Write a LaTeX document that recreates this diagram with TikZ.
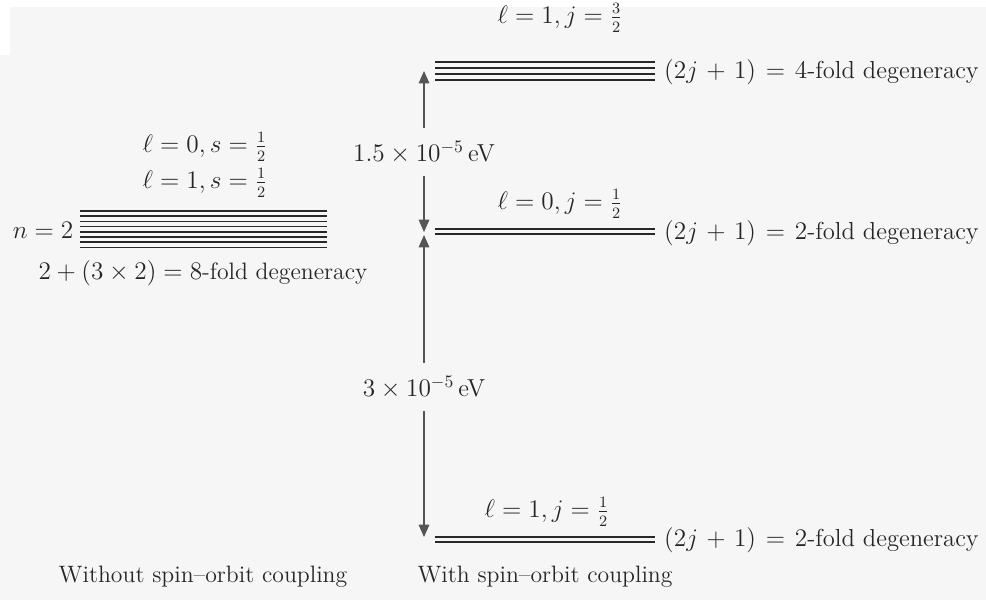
\documentclass[tikz,border=0pt]{standalone}
\usepackage{tikz}
\usetikzlibrary{arrows.meta, positioning}
\usepackage{xcolor}
\definecolor{pageGray}{RGB}{246, 246, 246}
\definecolor{levelInk}{RGB}{40, 40, 40}
\definecolor{arrowInk}{RGB}{85, 85, 85}
\newcommand{\looseMath}{\thickmuskip=7mu plus 3mu\relax\medmuskip=6mu plus 2mu\relax}

\begin{document}
\begin{tikzpicture}[
        x=0.02cm, y=-0.02cm,
        lvl/.style={line width=0.9pt, levelInk},
        txt/.style={font=\fontsize{13.5}{16}\selectfont, text=black!85, inner sep=0.5pt},
        degTxt/.style={txt, anchor=west, font=\fontsize{14}{16}\selectfont\looseMath},
        gapTxt/.style={txt, inner sep=7pt, font=\fontsize{14}{16}\selectfont},
        splitArrow/.style={-{Triangle[length=7pt, width=6pt]}, line width=0.7pt, arrowInk}
    ]
        % page background of the scan
        \useasboundingbox (0,0) rectangle (986,600);
        \fill[pageGray] (0,0) rectangle (986,600);
        \fill[white] (0,0) rectangle (986,7);
        \fill[white] (0,0) rectangle (10,55);

        % without spin-orbit coupling: n = 2 level
        \foreach \k in {0,...,7}
            \draw[lvl] (80,211+5.2*\k) -- (327,211+5.2*\k);
        \node[txt] (lZeroS) at (205,147) {$\ell = 0, s = \frac{1}{2}$};
        \node[txt] (lOneS) at (205,183) {$\ell = 1, s = \frac{1}{2}$};
        \node[txt] (nTwo) at (43,230) {$n = 2$};
        \node[txt] (deg8) at (203,273) {$2 + (3 \times 2) = 8$-fold degeneracy};
        \node[txt] (without) at (203,577) {Without spin--orbit coupling};

        % with spin-orbit coupling: j = 3/2, j = 1/2 and j = 1/2 levels
        \foreach \y in {62,68,74,80}
            \draw[lvl] (435,\y) -- (655,\y);
        \foreach \y in {229,234}
            \draw[lvl] (435,\y) -- (655,\y);
        \foreach \y in {537,542}
            \draw[lvl] (435,\y) -- (655,\y);

        \node[txt] (jThree) at (560,18) {$\ell = 1, j = \frac{3}{2}$};
        \node[degTxt] (deg4) at (663,72) {$(2j + 1) = 4$-fold degeneracy};
        \node[txt] (jHalfA) at (560,204) {$\ell = 0, j = \frac{1}{2}$};
        \node[degTxt] (deg2A) at (663,233) {$(2j + 1) = 2$-fold degeneracy};
        \node[txt] (jHalfB) at (547,512) {$\ell = 1, j = \frac{1}{2}$};
        \node[degTxt] (deg2B) at (663,540) {$(2j + 1) = 2$-fold degeneracy};
        \node[txt] (with) at (545,577) {With spin--orbit coupling};

        % energy splittings
        \coordinate (tipTop) at (424,71);
        \coordinate (tipMidDown) at (424,232);
        \coordinate (tipMidUp) at (424,235);
        \coordinate (tipBottom) at (424,537);
        \node[gapTxt] (eSmall) at (424,152) {$1.5 \times 10^{-5}\,$eV};
        \node[gapTxt] (eLarge) at (424,387) {$3 \times 10^{-5}\,$eV};

        \draw[splitArrow] (eSmall) -- (tipTop);
        \draw[splitArrow] (eSmall) -- (tipMidDown);
        \draw[splitArrow] (eLarge) -- (tipMidUp);
        \draw[splitArrow] (eLarge) -- (tipBottom);
    \end{tikzpicture}
\end{document}
